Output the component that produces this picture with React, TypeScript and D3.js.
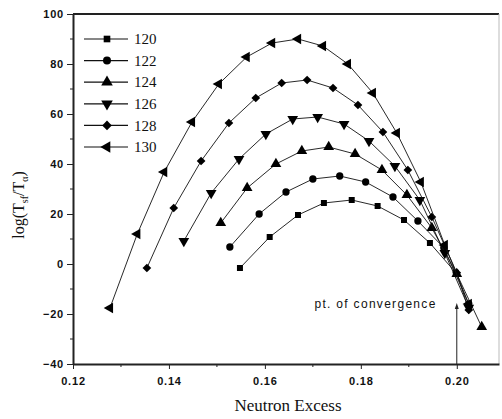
import React, { useEffect, useRef } from 'react';
import * as d3 from 'd3';

// values (neutron excess, log(Tsf/Ta))
const x120 = [0.1548, 0.161, 0.1669, 0.1723, 0.1781, 0.1835, 0.189, 0.1944, 0.1998];
const y120 = [-1.6, 10.8, 19.6, 24.4, 25.6, 23.2, 17.6, 8.4, -3.5];

const x122 = [0.1527, 0.1588, 0.1644, 0.17, 0.1756, 0.181, 0.1867, 0.1919, 0.1973, 0.2025];
const y122 = [6.8, 20, 28.8, 34, 35.2, 32.8, 26.8, 17.2, 6.5, -16];

const x124 = [0.1508, 0.1563, 0.1623, 0.1677, 0.1733, 0.1788, 0.1844, 0.1896, 0.1948, 0.2, 0.2052];
const y124 = [16.4, 30.4, 40, 45.2, 46.8, 44, 37.6, 27.6, 14.4, -4, -25.2];

const x126 = [0.1431, 0.1488, 0.1546, 0.1602, 0.1658, 0.171, 0.1765, 0.1817, 0.1871, 0.1923, 0.1975, 0.2025];
const y126 = [9.2, 28.4, 42, 52, 58, 58.8, 56, 49.2, 39.2, 25.6, 4.4, -17.5];

const x128 = [0.1354, 0.141, 0.1467, 0.1525, 0.1581, 0.1635, 0.1688, 0.1742, 0.1794, 0.1846, 0.1898, 0.1948, 0.2, 0.2025];
const y128 = [-1.6, 22.4, 41.2, 56.4, 66.4, 72.4, 73.6, 70.4, 63.6, 52.8, 37.6, 18.8, -3.5, -18.4];

const x130 = [0.1277, 0.1334, 0.139, 0.1448, 0.1504, 0.1562, 0.1615, 0.1669, 0.1721, 0.1773, 0.1825, 0.1875, 0.1925, 0.1975, 0.2025];
const y130 = [-17.6, 12, 36.8, 56.8, 72, 82.8, 88.4, 90, 87.2, 80, 68.4, 52.4, 32.8, 7.6, -16];

const seriesNames = ['120', '122', '124', '126', '128', '130'];
const xTicks = [0.12, 0.14, 0.16, 0.18, 0.2];
const xMinorTicks = [0.13, 0.15, 0.17, 0.19];
const yTicks = [-40, -20, 0, 20, 40, 60, 80, 100];
const yMinorTicks = [-30, -10, 10, 30, 50, 70, 90];

const convergenceX = 0.2;
const convergenceY = -16;

function App() {
    const ref = useRef<SVGSVGElement | null>(null);

    useEffect(() => {
        const width = 502, height = 419;
        const left = 73, right = 499, top = 14, bottom = 364;

        const svg = d3.select(ref.current);
        svg.selectAll('*').remove();

        svg.append('rect').attr('width', width).attr('height', height).attr('fill', '#fff');

        const x = d3.scaleLinear().domain([0.12, 0.2088]).range([left, right]);
        const y = d3.scaleLinear().domain([-40, 100]).range([bottom, top]);

        const series = [
            { name: seriesNames[0], xs: x120, ys: y120, shape: d3.symbolSquare, size: 36, rot: 0 },
            { name: seriesNames[1], xs: x122, ys: y122, shape: d3.symbolCircle, size: 42, rot: 0 },
            { name: seriesNames[2], xs: x124, ys: y124, shape: d3.symbolTriangle, size: 50, rot: 0 },
            { name: seriesNames[3], xs: x126, ys: y126, shape: d3.symbolTriangle, size: 50, rot: 180 },
            { name: seriesNames[4], xs: x128, ys: y128, shape: d3.symbolSquare, size: 38, rot: 45 },
            { name: seriesNames[5], xs: x130, ys: y130, shape: d3.symbolTriangle, size: 50, rot: -90 },
        ];

        // frame: top and right
        svg.append('line').attr('x1', left).attr('x2', right).attr('y1', top).attr('y2', top)
            .attr('stroke', '#222').attr('stroke-width', 2);
        svg.append('line').attr('x1', right).attr('x2', right).attr('y1', top).attr('y2', bottom)
            .attr('stroke', '#bbb').attr('stroke-width', 1);

        const tickFont = "'Liberation Sans', Arial, sans-serif";

        const xAxis = svg.append('g').attr('transform', 'translate(0,' + bottom + ')')
            .call(d3.axisBottom(x).tickValues(xTicks).tickSize(5).tickSizeOuter(0).tickFormat(d3.format('.2f')));
        xAxis.append('g').selectAll('line').data(xMinorTicks).join('line')
            .attr('x1', d => x(d)).attr('x2', d => x(d)).attr('y1', 0).attr('y2', 3)
            .attr('stroke', '#222');

        const yAxis = svg.append('g').attr('transform', 'translate(' + left + ',0)')
            .call(d3.axisLeft(y).tickValues(yTicks).tickSize(6).tickSizeOuter(0).tickFormat(d3.format('d')));
        yAxis.append('g').selectAll('line').data(yMinorTicks).join('line')
            .attr('y1', d => y(d)).attr('y2', d => y(d)).attr('x1', 0).attr('x2', -3)
            .attr('stroke', '#222');

        [xAxis, yAxis].forEach(a => {
            a.select('.domain').attr('stroke', '#222').attr('stroke-width', 2);
            a.selectAll('.tick line').attr('stroke', '#222');
            a.selectAll('.tick text').attr('fill', '#111')
                .style('font-family', tickFont).style('font-size', '11px').style('font-weight', 'bold')
                .style('letter-spacing', '0.8px');
        });
        xAxis.selectAll('.tick text').attr('dy', '1.2em');
        yAxis.selectAll('.tick text').attr('x', -9);

        const line = d3.line<[number, number]>().x(d => x(d[0])).y(d => y(d[1]));

        series.forEach(s => {
            const pts = s.xs.map((v, i) => [v, s.ys[i]] as [number, number]);
            svg.append('path').attr('d', line(pts)).attr('fill', 'none')
                .attr('stroke', '#111').attr('stroke-width', 0.9);
            svg.append('g').selectAll('path').data(pts).join('path')
                .attr('d', d3.symbol().type(s.shape).size(s.size)())
                .attr('transform', d => 'translate(' + x(d[0]) + ',' + y(d[1]) + ') rotate(' + s.rot + ')')
                .attr('fill', '#000');
        });

        // legend
        const legend = svg.append('g');
        series.forEach((s, i) => {
            const ly = 39 + i * 21.6;
            legend.append('line').attr('x1', 84).attr('x2', 128).attr('y1', ly).attr('y2', ly)
                .attr('stroke', '#111').attr('stroke-width', 1.2);
            legend.append('path').attr('d', d3.symbol().type(s.shape).size(s.size + 8)())
                .attr('transform', 'translate(107,' + ly + ') rotate(' + s.rot + ')').attr('fill', '#000');
            legend.append('text').attr('x', 134).attr('y', ly).attr('dy', '0.35em')
                .style('font-family', "'Liberation Serif', 'Times New Roman', serif").style('font-size', '15px')
                .attr('fill', '#111').text(s.name);
        });

        // point of convergence arrow
        const ax = x(convergenceX), ay = y(convergenceY);
        svg.append('line').attr('x1', ax).attr('x2', ax).attr('y1', bottom).attr('y2', ay + 2)
            .attr('stroke', '#222').attr('stroke-width', 1);
        svg.append('path').attr('d', 'M' + (ax - 2) + ',' + (ay + 5) + 'L' + ax + ',' + (ay - 1) + 'L' + (ax + 2) + ',' + (ay + 5) + 'Z')
            .attr('fill', '#222');
        svg.append('text').attr('x', x(0.1958)).attr('y', ay).attr('dy', '0.35em').attr('text-anchor', 'end')
            .style('font-family', tickFont).style('font-size', '12px').style('letter-spacing', '1.3px')
            .attr('fill', '#111').text('pt. of convergence');

        // axis titles
        svg.append('text').attr('x', 288).attr('y', 411).attr('text-anchor', 'middle')
            .style('font-family', "'Liberation Serif', 'Times New Roman', serif").style('font-size', '17px')
            .attr('fill', '#111').text('Neutron Excess');

        const yt = svg.append('text').attr('transform', 'translate(24,205) rotate(-90)').attr('text-anchor', 'middle')
            .style('font-family', "'Liberation Serif', 'Times New Roman', serif").style('font-size', '16px')
            .attr('fill', '#111');
        yt.append('tspan').text('log(T');
        yt.append('tspan').attr('dy', 4).style('font-size', '10px').text('sf');
        yt.append('tspan').attr('dy', -4).text('/T');
        yt.append('tspan').attr('dy', 4).style('font-size', '10px').text('α');
        yt.append('tspan').attr('dy', -4).text(')');
    }, []);

    return (
        <svg ref={ref} width={502} height={419}
            style={{ position: 'absolute', left: 0, top: 0, display: 'block' }} />
    );
}

export default App;
